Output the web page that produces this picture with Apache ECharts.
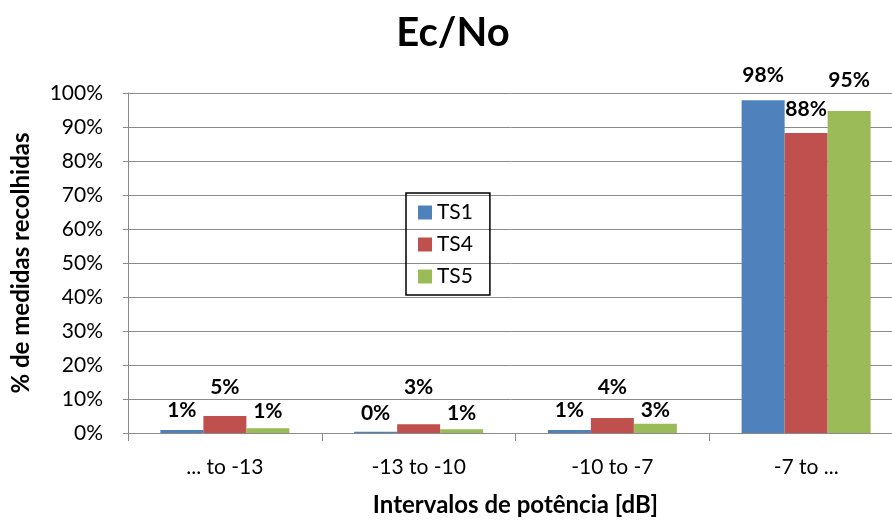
<!DOCTYPE html>
<html>
<head>
<meta charset="utf-8">
<script src="https://cdn.jsdelivr.net/npm/echarts@6/dist/echarts.min.js"></script>
<style>
  html, body { margin: 0; padding: 0; background: #fff; }
  #chart { width: 892px; height: 521px; }
</style>
</head>
<body>
<div id="chart"></div>
<script>
// Ec/No distribution per power interval, three test sessions
const categories = ['... to -13', '-13 to -10', '-10 to -7', '-7 to ...'];
const seriesNames = ['TS1', 'TS4', 'TS5'];
const ts1 = [0.9, 0.4, 0.9, 97.9];
const ts4 = [5.0, 2.6, 4.4, 88.2];
const ts5 = [1.4, 1.1, 2.7, 94.7];
const yTicks = [0, 10, 20, 30, 40, 50, 60, 70, 80, 90, 100];

// gap between each bar top and its value label
const labelLift = [
  [9, 8, 9, 14],
  [18, 26, 20, 13],
  [7, 6, 3, 20]
];

const colors = ['#4F81BD', '#C0504D', '#9BBB59'];
const font = 'Lato, "Open Sans", sans-serif';
const gridColor = '#8a8a8a';

const chart = echarts.init(document.getElementById('chart'));

const seriesData = [ts1, ts4, ts5];
const series = seriesData.map((vals, s) => ({
  name: seriesNames[s],
  type: 'bar',
  barWidth: 43,
  barGap: '0%',
  itemStyle: { color: colors[s] },
  data: vals.map((v, i) => ({
    value: v,
    label: { distance: labelLift[s][i] }
  })),
  label: {
    show: true,
    position: 'top',
    formatter: p => Math.round(p.value) + '%',
    fontFamily: font,
    fontWeight: 'bold',
    fontSize: 21,
    color: '#000'
  }
}));

chart.setOption({
  animation: false,
  backgroundColor: '#fff',
  color: colors,
  title: {
    text: 'Ec/No',
    left: 448,
    textAlign: 'center',
    top: 8,
    textStyle: { fontFamily: font, fontWeight: 'bold', fontSize: 40, color: '#000' }
  },
  legend: {
    orient: 'vertical',
    left: 406,
    top: 193,
    data: seriesNames,
    icon: 'rect',
    itemWidth: 14,
    itemHeight: 14,
    itemGap: 11,
    itemStyle: { borderWidth: 0 },
    borderColor: '#000',
    borderWidth: 1.5,
    padding: [9, 17, 8, 12],
    textStyle: { fontFamily: font, fontSize: 21, color: '#000', lineHeight: 18 }
  },
  grid: {
    left: 128,
    top: 93,
    width: 775,
    height: 340,
    containLabel: false,
    outerBoundsMode: 'none'
  },
  xAxis: {
    type: 'category',
    data: categories,
    name: 'Intervalos de potência [dB]',
    nameLocation: 'middle',
    nameGap: 60,
    nameTextStyle: { fontFamily: font, fontWeight: 'bold', fontSize: 24, color: '#000' },
    axisLine: { lineStyle: { color: gridColor, width: 1 } },
    axisTick: { show: true, length: 8, alignWithLabel: false, lineStyle: { color: gridColor } },
    axisLabel: { fontFamily: font, fontSize: 21, color: '#000', margin: 24 }
  },
  yAxis: {
    type: 'value',
    min: yTicks[0],
    max: yTicks[yTicks.length - 1],
    interval: yTicks[1] - yTicks[0],
    name: '% de medidas recolhidas',
    nameLocation: 'middle',
    nameGap: 95,
    nameRotate: 90,
    nameTextStyle: { fontFamily: font, fontWeight: 'bold', fontSize: 24, color: '#000' },
    axisLine: { show: true, lineStyle: { color: gridColor, width: 1 } },
    axisTick: { show: true, length: 5, lineStyle: { color: gridColor } },
    axisLabel: { fontFamily: font, fontSize: 21, color: '#000', margin: 25, formatter: '{value}%' },
    splitLine: { show: true, lineStyle: { color: gridColor, width: 1 } }
  },
  series: series
});
</script>
</body>
</html>
